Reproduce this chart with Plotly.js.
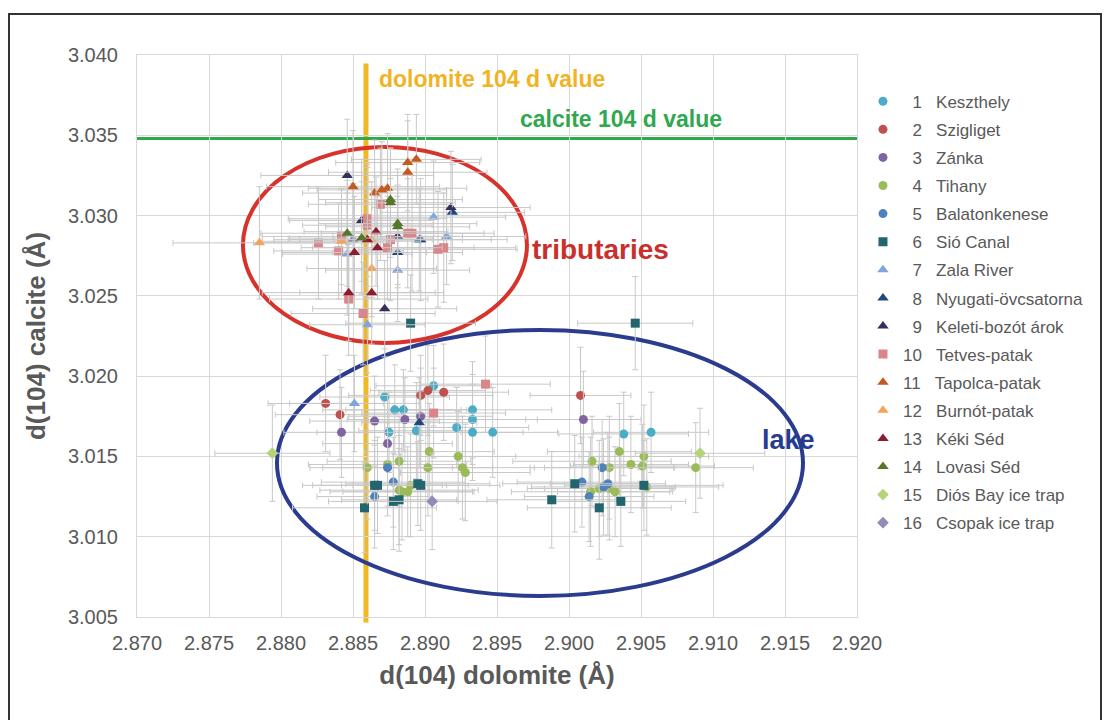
<!DOCTYPE html>
<html><head><meta charset="utf-8">
<script src="https://cdn.plot.ly/plotly-3.0.1.min.js"></script>
<style>
html,body{margin:0;padding:0;background:#fff;}
#chart{width:1108px;height:720px;}
#frame{position:absolute;left:8px;top:13px;width:1090px;height:720px;border:2px solid #333;pointer-events:none;}
</style>
</head><body>
<div id="chart"></div><div id="frame"></div>
<script>
// ---- reference values ----
const dolomiteD = 2.8859;
const calciteD = 3.0348;
const xTicks = [2.870,2.875,2.880,2.885,2.890,2.895,2.900,2.905,2.910,2.915,2.920];
const yTicks = [3.005,3.010,3.015,3.020,3.025,3.030,3.035,3.040];

// ---- series ----
const names = ['1','2','3','4','5','6','7','8','9','10','11','12','13','14','15','16'];
const labels = ['Keszthely','Szigliget','Zánka','Tihany','Balatonkenese','Sió Canal','Zala River','Nyugati-övcsatorna','Keleti-bozót árok','Tetves-patak','Tapolca-patak','Burnót-patak','Kéki Séd','Lovasi Séd','Diós Bay ice trap','Csopak ice trap'];

const x01 = [2.8906,2.8872,2.8879,2.8885,2.8933,2.8933,2.8922,2.8933,2.8947,2.8875,2.8894,2.9038,2.9057];
const y01 = [3.0194,3.0187,3.0179,3.0179,3.0179,3.0173,3.0168,3.0165,3.0165,3.0165,3.0166,3.0164,3.0165];
const ex01 = [0.0040,0.0045,0.0050,0.0040,0.0055,0.0045,0.0050,0.0035,0.0045,0.0050,0.0040,0.0045,0.0040];
const ey01 = [0.0025,0.0030,0.0028,0.0025,0.0030,0.0028,0.0025,0.0030,0.0028,0.0025,0.0030,0.0026,0.0025];

const x02 = [2.8831,2.8841,2.8897,2.8902,2.8913,2.9008];
const y02 = [3.0183,3.0176,3.0188,3.0191,3.0190,3.0188];
const ex02 = [0.0040,0.0045,0.0050,0.0040,0.0045,0.0035];
const ey02 = [0.0030,0.0028,0.0025,0.0028,0.0030,0.0030];

const x03 = [2.8865,2.8886,2.8897,2.8842,2.8874,2.9010];
const y03 = [3.0172,3.0173,3.0175,3.0165,3.0158,3.0173];
const ex03 = [0.0045,0.0040,0.0050,0.0040,0.0045,0.0040];
const ey03 = [0.0028,0.0026,0.0030,0.0028,0.0030,0.0030];

const x04 = [2.8903,2.8882,2.8860,2.8874,2.8902,2.8923,2.8926,2.8928,2.8882,2.8884,2.8888,2.8890,
             2.9035,2.9052,2.9016,2.9043,2.9051,2.9028,2.9088,2.9015,2.9021,2.9028,2.9032,2.9054];
const y04 = [3.0153,3.0147,3.0143,3.0145,3.0143,3.0150,3.0143,3.0140,3.0129,3.0128,3.0128,3.0132,
             3.0153,3.0150,3.0147,3.0145,3.0144,3.0143,3.0143,3.0128,3.0130,3.0130,3.0128,3.0131];
const ex04 = [0.0045,0.0050,0.0040,0.0055,0.0045,0.0040,0.0050,0.0045,0.0055,0.0050,0.0045,0.0040,
              0.0050,0.0045,0.0055,0.0040,0.0050,0.0045,0.0040,0.0055,0.0050,0.0045,0.0040,0.0050];
const ey04 = [0.0030,0.0028,0.0032,0.0026,0.0030,0.0028,0.0032,0.0030,0.0034,0.0030,0.0028,0.0032,
              0.0030,0.0032,0.0028,0.0030,0.0026,0.0032,0.0028,0.0034,0.0030,0.0032,0.0028,0.0030];

const x05 = [2.8874,2.8878,2.8865,2.9023,2.9009,2.9027,2.9024,2.9014];
const y05 = [3.0143,3.0134,3.0125,3.0143,3.0134,3.0133,3.0131,3.0125];
const ex05 = [0.0045,0.0050,0.0040,0.0050,0.0045,0.0040,0.0050,0.0045];
const ey05 = [0.0030,0.0028,0.0032,0.0030,0.0028,0.0032,0.0030,0.0028];

const x06 = [2.8865,2.8867,2.8895,2.8897,2.8878,2.8882,2.8858,2.8890,2.9046,2.9004,2.9052,2.8988,2.9021,2.9036];
const y06 = [3.0132,3.0132,3.0133,3.0132,3.0122,3.0123,3.0118,3.0233,3.0233,3.0133,3.0132,3.0123,3.0118,3.0122];
const ex06 = [0.0050,0.0045,0.0050,0.0055,0.0045,0.0040,0.0050,0.0045,0.0040,0.0050,0.0055,0.0045,0.0050,0.0045];
const ey06 = [0.0028,0.0030,0.0026,0.0028,0.0030,0.0032,0.0028,0.0030,0.0029,0.0030,0.0028,0.0030,0.0032,0.0028];

const x07 = [2.8906,2.8915,2.8846,2.8881,2.8860,2.8851];
const y07 = [3.0299,3.0287,3.0276,3.0266,3.0232,3.0183];
const ex07 = [0.0050,0.0055,0.0045,0.0050,0.0040,0.0045];
const ey07 = [0.0035,0.0030,0.0038,0.0032,0.0030,0.0030];

const x08 = [2.8850,2.8896,2.8897,2.8881,2.8919,2.8896];
const y08 = [3.0285,3.0285,3.0285,3.0277,3.0302,3.0171];
const ex08 = [0.0055,0.0050,0.0060,0.0045,0.0050,0.0040];
const ey08 = [0.0035,0.0032,0.0038,0.0035,0.0030,0.0028];

const x09 = [2.8846,2.8856,2.8881,2.8918,2.8872];
const y09 = [3.0325,3.0297,3.0287,3.0305,3.0242];
const ex09 = [0.0060,0.0050,0.0045,0.0055,0.0050];
const ey09 = [0.0035,0.0038,0.0032,0.0035,0.0030];

const x10 = [2.8869,2.8860,2.8860,2.8888,2.8891,2.8842,2.8826,2.8876,2.8874,2.8909,2.8913,2.8840,2.8847,2.8857,2.8942,2.8906];
const y10 = [3.0307,3.0298,3.0294,3.0289,3.0289,3.0287,3.0283,3.0285,3.0280,3.0279,3.0280,3.0278,3.0248,3.0239,3.0195,3.0177];
const ex10 = [0.0050,0.0055,0.0045,0.0060,0.0050,0.0055,0.0045,0.0050,0.0060,0.0055,0.0050,0.0045,0.0055,0.0050,0.0045,0.0050];
const ey10 = [0.0035,0.0032,0.0038,0.0034,0.0036,0.0030,0.0035,0.0038,0.0032,0.0036,0.0034,0.0030,0.0035,0.0032,0.0030,0.0028];

const x11 = [2.8888,2.8894,2.8888,2.8850,2.8865,2.8870,2.8874];
const y11 = [3.0333,3.0335,3.0327,3.0318,3.0314,3.0316,3.0317];
const ex11 = [0.0050,0.0045,0.0055,0.0060,0.0050,0.0045,0.0055];
const ey11 = [0.0030,0.0028,0.0032,0.0035,0.0033,0.0030,0.0034];

const x12 = [2.8785,2.8842,2.8863,2.8863];
const y12 = [3.0283,3.0284,3.0285,3.0267];
const ex12 = [0.0060,0.0055,0.0050,0.0045];
const ey12 = [0.0035,0.0032,0.0036,0.0030];

const x13 = [2.8866,2.8860,2.8867,2.8851,2.8847,2.8863];
const y13 = [3.0290,3.0285,3.0280,3.0277,3.0252,3.0252];
const ex13 = [0.0050,0.0055,0.0045,0.0050,0.0060,0.0050];
const ey13 = [0.0034,0.0036,0.0032,0.0035,0.0030,0.0032];

const x14 = [2.8876,2.8876,2.8881,2.8881,2.8846,2.8856];
const y14 = [3.0310,3.0308,3.0295,3.0293,3.0289,3.0286];
const ex14 = [0.0050,0.0045,0.0055,0.0050,0.0060,0.0050];
const ey14 = [0.0032,0.0034,0.0030,0.0036,0.0033,0.0035];

const x15 = [2.8794,2.9091];
const y15 = [3.0152,3.0152];
const ex15 = [0.0040,0.0045];
const ey15 = [0.0030,0.0028];

const x16 = [2.8905];
const y16 = [3.0122];
const ex16 = [0.0045];
const ey16 = [0.0030];

const allX = [x01,x02,x03,x04,x05,x06,x07,x08,x09,x10,x11,x12,x13,x14,x15,x16];
const allY = [y01,y02,y03,y04,y05,y06,y07,y08,y09,y10,y11,y12,y13,y14,y15,y16];
const allEX = [ex01,ex02,ex03,ex04,ex05,ex06,ex07,ex08,ex09,ex10,ex11,ex12,ex13,ex14,ex15,ex16];
const allEY = [ey01,ey02,ey03,ey04,ey05,ey06,ey07,ey08,ey09,ey10,ey11,ey12,ey13,ey14,ey15,ey16];

// ---- styles ----
const colors = ['#4BACC6','#C0504D','#8064A2','#9BBB59','#4F81BD','#23656F','#7EA6D8','#1F497D',
                '#33305E','#D9868A','#C45A1E','#F2A45C','#8C1C2E','#56772B','#B5D47A','#8F8CB8'];
const symbols = ['circle','circle','circle','circle','circle','square','triangle-up','triangle-up',
                 'triangle-up','square','triangle-up','triangle-up','triangle-up','triangle-up','diamond','diamond'];

const FONT = 'Liberation Sans, Arial, sans-serif';
const GRAY = '#595959';

const traces = names.map((n, i) => ({
  type: 'scatter', mode: 'markers',
  name: (n.length < 2 ? '\u2007' : '') + n + '\u00a0\u00a0\u00a0' + labels[i],
  legendgroup: 'g' + i,
  x: allX[i], y: allY[i],
  error_x: {type: 'data', array: allEX[i], visible: true, color: '#C8C8C8', thickness: 1, width: 3},
  error_y: {type: 'data', array: allEY[i], visible: true, color: '#C8C8C8', thickness: 1, width: 3},
  marker: {color: colors[i], symbol: symbols[i], size: symbols[i].startsWith('triangle') ? 10 : 9}
}));

const layout = {
  width: 1108, height: 720,
  margin: {l: 137, r: 251, t: 55, b: 103},
  paper_bgcolor: '#ffffff', plot_bgcolor: '#ffffff',
  font: {family: FONT, color: GRAY},
  showlegend: true,
  legend: {x: 1.0083, y: 0.949, xanchor: 'left', yanchor: 'top', font: {size: 17, color: GRAY, family: FONT},
           tracegroupgap: 3, bgcolor: 'rgba(0,0,0,0)'},
  xaxis: {range: [2.870, 2.920], tickvals: xTicks, tickformat: '.3f', showgrid: true, gridcolor: '#D9D9D9',
          zeroline: false, showline: true, linecolor: '#D9D9D9', mirror: true, ticks: '',
          ticklabelstandoff: 8, tickfont: {size: 20, color: GRAY, family: FONT},
          title: {text: 'd(104) dolomite (Å)', font: {size: 26, color: GRAY, family: FONT, weight: 'bold'}, standoff: 12}},
  yaxis: {range: [3.005, 3.040], tickvals: yTicks, tickformat: '.3f', showgrid: true, gridcolor: '#D9D9D9',
          zeroline: false, showline: true, linecolor: '#D9D9D9', mirror: true, ticks: '',
          ticklabelstandoff: 14, tickfont: {size: 20, color: GRAY, family: FONT},
          title: {text: 'd(104) calcite (Å)', font: {size: 26, color: GRAY, family: FONT, weight: 'bold'}, standoff: 14}},
  shapes: [
    {type: 'line', xref: 'x', yref: 'paper', x0: dolomiteD, x1: dolomiteD, y0: -0.01, y1: 0.985,
     line: {color: '#F2B822', width: 5}, layer: 'between'},
    {type: 'line', xref: 'paper', yref: 'y', x0: 0, x1: 1, y0: calciteD, y1: calciteD,
     line: {color: '#2DAA4B', width: 3}, layer: 'between'},
    {type: 'circle', xref: 'x', yref: 'y', x0: 2.87736, x1: 2.89708, y0: 3.02207, y1: 3.03427,
     line: {color: '#D7322B', width: 4}, layer: 'between'},
    {type: 'circle', xref: 'x', yref: 'y', x0: 2.87972, x1: 2.91625, y0: 3.00631, y1: 3.02288,
     line: {color: '#2B3C8E', width: 4}, layer: 'between'}
  ],
  annotations: [
    {text: 'dolomite 104 d value', x: 2.88667, y: 3.0385, xref: 'x', yref: 'y', xanchor: 'left', yanchor: 'middle',
     showarrow: false, font: {size: 23, color: '#F0B323', family: FONT, weight: 'bold'}},
    {text: 'calcite 104 d value', x: 2.89646, y: 3.0360, xref: 'x', yref: 'y', xanchor: 'left', yanchor: 'middle',
     showarrow: false, font: {size: 23, color: '#2FA84F', family: FONT, weight: 'bold'}},
    {text: 'tributaries', x: 2.89729, y: 3.02786, xref: 'x', yref: 'y', xanchor: 'left', yanchor: 'middle',
     showarrow: false, font: {size: 28, color: '#C9302C', family: FONT, weight: 'bold'}},
    {text: 'lake', x: 2.91326, y: 3.01603, xref: 'x', yref: 'y', xanchor: 'left', yanchor: 'middle',
     showarrow: false, font: {size: 27, color: '#263B8F', family: FONT, weight: 'bold'}}
  ]
};

Plotly.newPlot('chart', traces, layout, {displayModeBar: false, staticPlot: true});
</script>
</body></html>
